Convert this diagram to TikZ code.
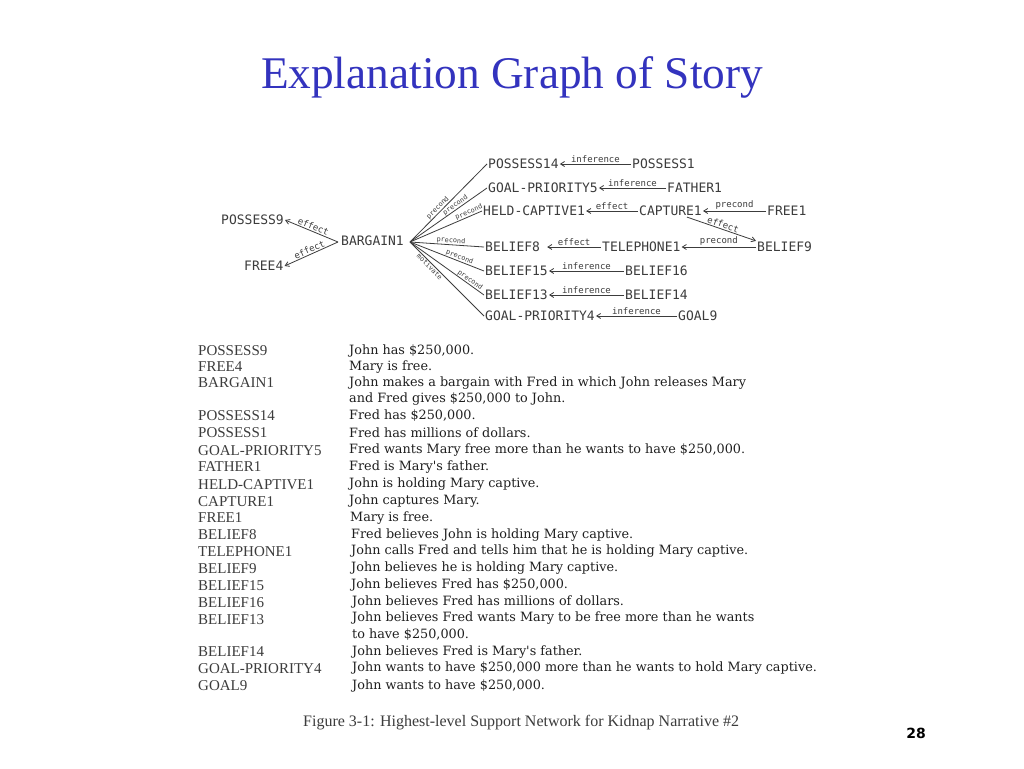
\documentclass[tikz,border=0pt]{standalone}
\usepackage{fontspec}
\setmainfont{Liberation Serif}
\newfontfamily\gfont{DejaVu Sans Mono}
\newfontfamily\numfont{DejaVu Sans}
\newfontfamily\descfont{DejaVu Serif}
\usetikzlibrary{arrows.meta}
\definecolor{titleblue}{RGB}{51,51,190}
\definecolor{ink}{RGB}{60,60,60}
\begin{document}
\begin{tikzpicture}[x=1pt,y=-1pt,
  gnode/.style={inner sep=1pt,anchor=west,text=ink,font=\gfont\fontsize{13}{14}\selectfont},
  elab/.style={font=\gfont\fontsize{9}{9}\selectfont,text=ink,inner sep=1pt},
  flab/.style={font=\gfont\fontsize{6.8}{7}\selectfont,text=ink,inner sep=0.3pt,sloped},
  gedge/.style={draw=ink,line width=0.8pt},
  garrow/.style={gedge,-{Straight Barb[length=4pt,width=5pt]}},
  tname/.style={anchor=west,inner sep=0pt,text=ink,font=\fontsize{15}{16}\selectfont},
  tdesc/.style={anchor=west,inner sep=0pt,text=black!88,font=\descfont\fontsize{12.8}{13}\selectfont}]
\useasboundingbox (0,0) rectangle (1024,768);
\fill[white] (0,0) rectangle (1024,768);
% title
\node[text=titleblue,font=\fontsize{45.3}{48}\selectfont] (title) at (512,77) {Explanation Graph of Story};
\node[font=\numfont\bfseries\fontsize{14}{16}\selectfont] (page) at (916,733) {28};
% graph nodes
\node[gnode] (possess9) at (220,220) {POSSESS9};
\node[gnode] (free4) at (243,266) {FREE4};
\node[gnode] (bargain) at (340,241) {BARGAIN1};
\node[gnode] (possess14) at (487,164) {POSSESS14};
\node[gnode] (possess1) at (631,164) {POSSESS1};
\node[gnode] (gp5) at (487,188) {GOAL-PRIORITY5};
\node[gnode] (father1) at (666,188) {FATHER1};
\node[gnode] (held) at (482,211) {HELD-CAPTIVE1};
\node[gnode] (capture1) at (638,211) {CAPTURE1};
\node[gnode] (free1) at (766,211) {FREE1};
\node[gnode] (belief8) at (484,247) {BELIEF8};
\node[gnode] (telephone1) at (601,247) {TELEPHONE1};
\node[gnode] (belief9) at (756,247) {BELIEF9};
\node[gnode] (belief15) at (484,271) {BELIEF15};
\node[gnode] (belief16) at (624,271) {BELIEF16};
\node[gnode] (belief13) at (484,295) {BELIEF13};
\node[gnode] (belief14) at (624,295) {BELIEF14};
\node[gnode] (gp4) at (484,316) {GOAL-PRIORITY4};
\node[gnode] (goal9) at (677,316) {GOAL9};
% junction points beside BARGAIN1
\coordinate (bL) at (338,242);
\coordinate (bR) at (410,242);
% left effects
\draw[garrow] (bL) -- node[elab,sloped,above] {effect} (possess9.east);
\draw[garrow] (bL) -- node[elab,sloped,above] {effect} (free4.east);
% fan out
\draw[gedge] (bR) -- node[flab,above,pos=0.4] {precond} (possess14.west);
\draw[gedge] (bR) -- node[flab,above,pos=0.62] {precond} (gp5.west);
\draw[gedge] (bR) -- node[flab,above,pos=0.84] {precond} (held.west);
\draw[gedge] (bR) -- node[flab,above,pos=0.55] {precond} (belief8.west);
\draw[gedge] (bR) -- node[flab,above,pos=0.65] {precond} (belief15.west);
\draw[gedge] (bR) -- node[flab,above,pos=0.78] {precond} (belief13.west);
\draw[gedge] (bR) -- node[flab,below,pos=0.3] {motivate} (gp4.west);
% right side chains
\draw[garrow] (possess1.west) -- node[elab,above] {inference} (possess14.east);
\draw[garrow] (father1.west) -- node[elab,above] {inference} (gp5.east);
\draw[garrow] (capture1.west) -- node[elab,above] {effect} (held.east);
\draw[garrow] (free1.west) -- node[elab,above] {precond} (capture1.east);
\draw[garrow] ([xshift=-16pt]capture1.south east) -- node[elab,sloped,above] {effect} (belief9.north west);
\draw[garrow] (telephone1.west) -- node[elab,above] {effect} ([xshift=6pt]belief8.east);
\draw[garrow] (belief9.west) -- node[elab,above] {precond} (telephone1.east);
\draw[garrow] (belief16.west) -- node[elab,above] {inference} (belief15.east);
\draw[garrow] (belief14.west) -- node[elab,above] {inference} (belief13.east);
\draw[garrow] (goal9.west) -- node[elab,above] {inference} (gp4.east);
% table
\foreach \n/\y/\t in {1/351/POSSESS9, 2/367/FREE4, 3/383/BARGAIN1, 4/416/POSSESS14,
  5/433/POSSESS1, 6/451/GOAL-PRIORITY5, 7/467/FATHER1, 8/485/HELD-CAPTIVE1,
  9/502/CAPTURE1, 10/518/FREE1, 11/535/BELIEF8, 12/552/TELEPHONE1, 13/569/BELIEF9,
  14/586/BELIEF15, 15/603/BELIEF16, 16/620/BELIEF13, 17/652/BELIEF14,
  18/669/GOAL-PRIORITY4, 19/686/GOAL9}
  \node[tname] (name\n) at (198,\y) {\t};
\node[tdesc] (d1) at (349,351) {John has \$250,000.};
\node[tdesc] (d2) at (349,367) {Mary is free.};
\node[tdesc] (d3) at (349,383) {John makes a bargain with Fred in which John releases Mary};
\node[tdesc] (d3b) at (349,399) {and Fred gives \$250,000 to John.};
\node[tdesc] (d4) at (349,416) {Fred has \$250,000.};
\node[tdesc] (d5) at (349,433) {Fred has millions of dollars.};
\node[tdesc] (d6) at (349,450) {Fred wants Mary free more than he wants to have \$250,000.};
\node[tdesc] (d7) at (349,467) {Fred is Mary's father.};
\node[tdesc] (d8) at (349,484) {John is holding Mary captive.};
\node[tdesc] (d9) at (349,501) {John captures Mary.};
\node[tdesc] (d10) at (350,518) {Mary is free.};
\node[tdesc] (d11) at (351,535) {Fred believes John is holding Mary captive.};
\node[tdesc] (d12) at (351,551) {John calls Fred and tells him that he is holding Mary captive.};
\node[tdesc] (d13) at (351,568) {John believes he is holding Mary captive.};
\node[tdesc] (d14) at (351,585) {John believes Fred has \$250,000.};
\node[tdesc] (d15) at (352,602) {John believes Fred has millions of dollars.};
\node[tdesc] (d16) at (352,618) {John believes Fred wants Mary to be free more than he wants};
\node[tdesc] (d16b) at (352,635) {to have \$250,000.};
\node[tdesc] (d17) at (352,652) {John believes Fred is Mary's father.};
\node[tdesc] (d18) at (352,668) {John wants to have \$250,000 more than he wants to hold Mary captive.};
\node[tdesc] (d19) at (352,686) {John wants to have \$250,000.};
\node[anchor=west,inner sep=0pt,text=ink,font=\fontsize{16}{17}\selectfont] (caption) at (303,723) {Figure 3-1: Highest-level Support Network for Kidnap Narrative \#2};
\end{tikzpicture}
\end{document}
